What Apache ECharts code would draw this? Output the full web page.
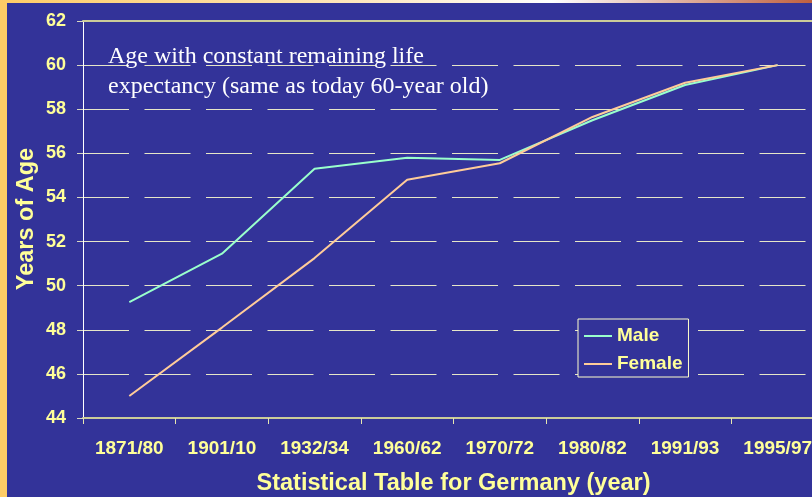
<!DOCTYPE html>
<html>
<head>
<meta charset="utf-8">
<title>Age with constant remaining life expectancy</title>
<script src="https://cdn.jsdelivr.net/npm/echarts@6/dist/echarts.min.js"></script>
<style>
  html, body { margin: 0; padding: 0; background: #333399; }
  #chart { width: 812px; height: 497px; }
</style>
</head>
<body>
<div id="chart"></div>
<script>
// data
const categories = ['1871/80', '1901/10', '1932/34', '1960/62', '1970/72', '1980/82', '1991/93', '1995/97'];
const maleValues = [49.25, 51.45, 55.3, 55.8, 55.7, 57.5, 59.1, 60.0];
const femaleValues = [45.0, 48.1, 51.25, 54.8, 55.55, 57.65, 59.2, 60.0];
const seriesNames = ['Male', 'Female'];
const yMin = 44, yMax = 62, yStep = 2;

const yellow = '#FFFF99';
const sans = '"Liberation Sans", Arial, sans-serif';

const chart = echarts.init(document.getElementById('chart'));

const option = {
  backgroundColor: '#333399',
  animation: false,
  title: {
    text: 'Age with constant remaining life\nexpectancy (same as today 60-year old)',
    left: 108,
    top: 42,
    padding: 0,
    textStyle: {
      color: '#FFFFFF',
      fontFamily: '"Liberation Serif", "Times New Roman", serif',
      fontWeight: 'normal',
      fontSize: 24,
      lineHeight: 30
    }
  },
  legend: {
    orient: 'vertical',
    left: 578,
    top: 319,
    padding: [7, 6, 3, 6],
    itemGap: 8,
    itemWidth: 28,
    itemHeight: 2,
    icon: 'rect',
    backgroundColor: '#333399',
    borderColor: '#FFFFCC',
    borderWidth: 1,
    data: seriesNames,
    textStyle: { color: yellow, fontFamily: sans, fontWeight: 'bold', fontSize: 19, lineHeight: 20 }
  },
  // the plot runs past the right edge of the slide, as in the picture
  grid: { left: 83, top: 21, width: 741, height: 397, containLabel: false, outerBoundsMode: 'none' },
  xAxis: [
    {
      type: 'category',
      data: categories,
      boundaryGap: true,
      name: 'Statistical Table for Germany (year)',
      nameLocation: 'middle',
      nameGap: 54,
      nameMoveOverlap: false,
      nameTextStyle: { color: yellow, fontFamily: sans, fontWeight: 'bold', fontSize: 23.5 },
      axisLine: { lineStyle: { color: '#CCCC99', width: 2 } },
      axisTick: { show: true, length: 6, lineStyle: { color: '#E6E6B0', width: 1 } },
      axisLabel: { color: yellow, fontFamily: sans, fontWeight: 'bold', fontSize: 19, margin: 21, interval: 0 },
      splitLine: { show: false }
    },
    {
      type: 'category',
      data: categories,
      position: 'top',
      axisLine: { lineStyle: { color: '#CCCC99', width: 2 } },
      axisTick: { show: false },
      axisLabel: { show: false },
      splitLine: { show: false }
    }
  ],
  yAxis: {
    type: 'value',
    min: yMin,
    max: yMax,
    interval: yStep,
    axisLine: { show: true, lineStyle: { color: '#FFFFFF', width: 1 } },
    axisTick: { show: true, length: 6, lineStyle: { color: '#D8D8C0' } },
    axisLabel: { color: yellow, fontFamily: sans, fontWeight: 'bold', fontSize: 18, margin: 17 },
    splitLine: { show: true, lineStyle: { color: '#E6E6C8', width: 1, type: [46, 15.5] } }
  },
  series: [
    {
      name: seriesNames[0],
      type: 'line',
      data: maleValues,
      symbol: 'none',
      itemStyle: { color: '#99FFCC' },
      lineStyle: { color: '#99FFCC', width: 2 }
    },
    {
      name: seriesNames[1],
      type: 'line',
      data: femaleValues,
      symbol: 'none',
      itemStyle: { color: '#FFCC99' },
      lineStyle: { color: '#FFCC99', width: 2 }
    }
  ],
  graphic: [
    // y axis title, placed by hand so it sits where the slide had it
    {
      type: 'text', x: 27, y: 219, rotation: Math.PI / 2,
      style: { text: 'Years of Age', fill: yellow, font: 'bold 23.5px ' + sans, align: 'center', verticalAlign: 'middle' }
    },
    // slide frame: left strip and top gradient band
    { type: 'rect', left: 0, top: 0, shape: { width: 7, height: 497 }, style: { fill: '#FFCC66' }, z: 100 },
    {
      type: 'rect', left: 0, top: 0, shape: { width: 812, height: 3 }, z: 100,
      style: {
        fill: new echarts.graphic.LinearGradient(0, 0, 1, 0, [
          { offset: 0, color: '#FFCC66' },
          { offset: 0.45, color: '#FFE8C0' },
          { offset: 0.68, color: '#FFFFFF' },
          { offset: 1, color: '#C0603F' }
        ])
      }
    }
  ]
};

chart.setOption(option);
window.addEventListener('resize', () => chart.resize());
</script>
</body>
</html>
